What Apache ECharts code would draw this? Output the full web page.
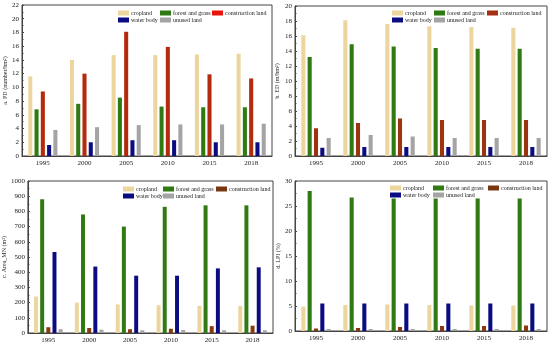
<!DOCTYPE html>
<html><head><meta charset="utf-8">
<script src="https://cdn.jsdelivr.net/npm/echarts@6/dist/echarts.min.js"></script>
<style>html,body{margin:0;padding:0;background:#fff}#c{width:550px;height:345px}</style>
</head><body><div id="c"></div>
<script>
const years = ['1995','2000','2005','2010','2015','2018'];
const classes = ['cropland','forest and grass','construction land','water body','unused land'];

// a. PD
const pdCropland = [11.6, 14.0, 14.7, 14.7, 14.8, 14.9];
const pdForest = [6.8, 7.6, 8.5, 7.2, 7.1, 7.1];
const pdConstruction = [9.4, 12.0, 18.1, 15.9, 11.9, 11.3];
const pdWater = [1.6, 2.0, 2.3, 2.3, 2.0, 2.0];
const pdUnused = [3.8, 4.2, 4.5, 4.6, 4.6, 4.7];

// b. ED
const edCropland = [16.1, 18.1, 17.6, 17.3, 17.2, 17.1];
const edForest = [13.2, 14.9, 14.6, 14.4, 14.3, 14.3];
const edConstruction = [3.7, 4.4, 5.0, 4.8, 4.8, 4.8];
const edWater = [1.1, 1.2, 1.2, 1.2, 1.2, 1.2];
const edUnused = [2.4, 2.8, 2.6, 2.4, 2.4, 2.4];

// c. Area_MN
const mnCropland = [240, 200, 188, 183, 178, 178];
const mnForest = [880, 780, 700, 830, 840, 840];
const mnConstruction = [38, 33, 25, 28, 45, 48];
const mnWater = [533, 437, 377, 377, 425, 432];
const mnUnused = [25, 22, 18, 20, 18, 18];

// d. LPI
const lpiCropland = [4.9, 5.2, 5.3, 5.2, 5.1, 5.1];
const lpiForest = [28.0, 26.7, 26.5, 26.5, 26.5, 26.5];
const lpiConstruction = [0.5, 0.6, 0.8, 1.0, 1.0, 1.1];
const lpiWater = [5.5, 5.5, 5.5, 5.5, 5.5, 5.5];
const lpiUnused = [0.4, 0.4, 0.4, 0.4, 0.4, 0.4];

const yTitles = ['a. PD (number/hm²)', 'b. ED (m/hm²)', 'c. Area_MN (m²)', 'd. LPI (%)'];
const yMax = [22, 20, 1000, 30];
const yStep = [2, 2, 100, 5];

const panels = [
  [pdCropland, pdForest, pdConstruction, pdWater, pdUnused],
  [edCropland, edForest, edConstruction, edWater, edUnused],
  [mnCropland, mnForest, mnConstruction, mnWater, mnUnused],
  [lpiCropland, lpiForest, lpiConstruction, lpiWater, lpiUnused]
];

const FONT = '"Liberation Serif", "Times New Roman", serif';
const baseColors = ['#ecd69e', '#2f7a12', '#9c3410', '#0c0c82', '#a4a4a4'];
const constrColors = ['#b52a0c', '#9c3410', '#8a3a10', '#8a3a10'];
const constrLegend = ['#e8140c', '#a3300e', '#7a3512', '#7a3512'];

const grids = [
  {left: 22, top: 5, right: 278, bottom: 189},
  {left: 295, top: 6, right: 3, bottom: 189},
  {left: 25, top: 181, right: 277, bottom: 12},
  {left: 295, top: 181, right: 3, bottom: 14}
];
const nameGaps = [13, 15, 16, 12];
const legendPos = [
  {x: [118, 160, 212], y: [10, 17]},
  {x: [392, 434, 487], y: [10, 17]},
  {x: [123, 163, 216], y: [186, 193]},
  {x: [390, 433, 488], y: [185, 192]}
];

const option = {
  animation: false,
  backgroundColor: '#fff',
  grid: grids.map(g => Object.assign({show: true, borderColor: '#444', borderWidth: 1, backgroundColor: 'transparent'}, g)),
  xAxis: grids.map((g, i) => ({
    type: 'category', gridIndex: i, data: years,
    axisLine: {lineStyle: {color: '#444', width: 1}},
    axisTick: {inside: true, length: 2, lineStyle: {color: '#666'}},
    axisLabel: {fontFamily: FONT, fontSize: 7, color: '#222', margin: 4}
  })),
  yAxis: grids.map((g, i) => ({
    type: 'value', gridIndex: i, min: 0, max: yMax[i], interval: yStep[i],
    name: yTitles[i], nameLocation: 'middle', nameGap: nameGaps[i], nameRotate: 90,
    nameTextStyle: {fontFamily: FONT, fontSize: 6, color: '#222'},
    axisLine: {show: true, lineStyle: {color: '#444', width: 1}},
    axisTick: {show: true, inside: true, length: 2, lineStyle: {color: '#444'}},
    minorTick: {show: true, splitNumber: 2, length: 1.5, lineStyle: {color: '#444'}},
    splitLine: {show: false},
    axisLabel: {fontFamily: FONT, fontSize: 7, color: '#222', margin: 3, formatter: v => String(v)}
  })),
  legend: [],
  series: []
};

panels.forEach((vals, p) => {
  vals.forEach((arr, k) => {
    const color = k === 2 ? constrColors[p] : baseColors[k];
    option.series.push({
      type: 'bar', name: classes[k], xAxisIndex: p, yAxisIndex: p,
      data: arr, barGap: '55%', barCategoryGap: '30%',
      itemStyle: {color: color}
    });
  });
  const lp = legendPos[p];
  const positions = [
    [lp.x[0], lp.y[0]], [lp.x[1], lp.y[0]], [lp.x[2], lp.y[0]],
    [lp.x[0], lp.y[1]], [lp.x[1], lp.y[1]]
  ];
  classes.forEach((c, k) => {
    const lc = k === 2 ? constrLegend[p] : baseColors[k];
    option.legend.push({
      left: positions[k][0], top: positions[k][1],
      itemWidth: 11, itemHeight: 5, itemGap: 2, padding: 0,
      selectedMode: false,
      icon: 'rect',
      data: [{name: c, itemStyle: {color: lc}}],
      textStyle: {fontFamily: FONT, fontSize: 6, color: '#222', padding: [0, 0, 0, -3]}
    });
  });
});

const chart = echarts.init(document.getElementById('c'), null, {renderer: 'canvas'});
chart.setOption(option);
</script></body></html>
